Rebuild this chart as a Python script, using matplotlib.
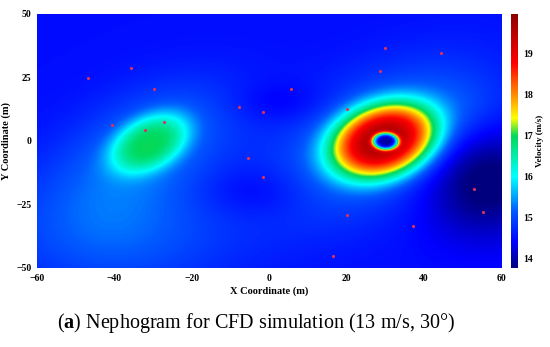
import matplotlib
matplotlib.use("Agg")
import matplotlib.pyplot as plt
import numpy as np
from matplotlib.colors import LinearSegmentedColormap

plt.rcParams['font.family'] = ['Liberation Serif', 'DejaVu Serif']
plt.rcParams['mathtext.fontset'] = 'custom'
plt.rcParams['mathtext.rm'] = 'Liberation Serif'
plt.rcParams['mathtext.bf'] = 'Liberation Serif:bold'

# velocity field features (m, m/s)
base_speed = 14.5
blob_x = [-40, -30, -31, 29, 29.5, 30, 55, -3, 3, 50]
blob_y = [-35, 0, -1, 0, 0, -0.3, -15, -20, 15, 12]
blob_amp = [0.7, 0.8, 1.6, 1.0, 4.2, -5.7, -0.9, -0.3, -0.25, 0.2]
blob_sx = [30, 26, 13, 33, 16, 3.4, 16, 14, 12, 12]
blob_sy = [25, 17, 8.5, 20, 12.5, 3.4, 22, 10, 8, 12]
blob_angle = [0, 50, 56, 50, 55, 0, 0, 0, 0, 0]
blob_power = [1, 1, 1.6, 1, 1.5, 2, 1, 1, 1, 1]

# monitoring points
pt_x = [-46.7, -35.7, -29.7, -40.6, -32.1, -27.2, -7.8, -1.7, -5.4, -1.7,
        5.6, 20.2, 28.6, 29.9, 44.5, 52.9, 55.3, 37.2, 20.2, 16.5]
pt_y = [24.7, 28.7, 20.5, 6.3, 4.3, 7.4, 13.4, 11.4, -6.8, -14.0,
        20.5, 12.5, 27.7, 36.7, 34.8, -19.0, -28.0, -33.3, -29.1, -45.4]

vmin, vmax = 13.78, 19.95
cbar_ticks = [14, 15, 16, 17, 18, 19]

xs = np.linspace(-60, 60, 600)
ys = np.linspace(-50, 50, 500)
X, Y = np.meshgrid(xs, ys)
V = np.full_like(X, base_speed)
for cx, cy, a, sx, sy, ang, p in zip(blob_x, blob_y, blob_amp, blob_sx,
                                     blob_sy, blob_angle, blob_power):
    t = np.deg2rad(ang)
    u = (X - cx) * np.cos(t) + (Y - cy) * np.sin(t)
    w = -(X - cx) * np.sin(t) + (Y - cy) * np.cos(t)
    d2 = (u / sx) ** 2 + (w / sy) ** 2
    V += a * np.exp(-d2 ** p)

cmap = LinearSegmentedColormap.from_list("neph", [
    (0.0, (0.0, 0.0, 0.5)),
    (0.1, (0.0, 0.0, 1.0)),
    (0.22, (0.0, 0.35, 1.0)),
    (0.36, (0.0, 1.0, 1.0)),
    (0.52, (0.0, 0.85, 0.35)),
    (0.59, (1.0, 1.0, 0.0)),
    (0.68, (1.0, 0.55, 0.0)),
    (0.81, (1.0, 0.0, 0.0)),
    (1.0, (0.55, 0.0, 0.0)),
])

fig = plt.figure(figsize=(5.5, 3.47), dpi=100)
ax = fig.add_axes([0.0673, 0.2277, 0.844, 0.732])
im = ax.imshow(V, extent=[-60, 60, -50, 50], origin="lower", cmap=cmap,
               vmin=vmin, vmax=vmax, aspect="auto", interpolation="bilinear")
ax.plot(pt_x, pt_y, ".", color="#e0305a", markersize=2.5)
ax.set_xlim(-60, 60)
ax.set_ylim(-50, 50)
ax.set_xticks([-60, -40, -20, 0, 20, 40, 60])
ax.set_yticks([-50, -25, 0, 25, 50])
ax.tick_params(length=0, labelsize=7, pad=4)
for lab in ax.get_xticklabels() + ax.get_yticklabels():
    lab.set_fontweight("bold")
for s in ax.spines.values():
    s.set_visible(False)
ax.set_xlabel("X Coordinate (m)", fontsize=7.5, fontweight="bold", labelpad=3)
ax.set_ylabel("Y Coordinate (m)", fontsize=7.5, fontweight="bold", labelpad=4)

cax = fig.add_axes([0.929, 0.2277, 0.0127, 0.732])
cb = fig.colorbar(im, cax=cax, ticks=cbar_ticks)
cb.outline.set_visible(False)
cb.ax.tick_params(length=0, labelsize=7, pad=4)
for lab in cb.ax.get_yticklabels():
    lab.set_fontweight("bold")
cb.set_label("Velocity (m/s)", fontsize=6.5, fontweight="bold", labelpad=2)

fig.text(0.465, 0.068, r"($\mathbf{a}$) Nephogram for CFD simulation (13 m/s, 30°)",
         ha="center", va="center", fontsize=14.5)

fig.savefig("out.png", dpi=100)
